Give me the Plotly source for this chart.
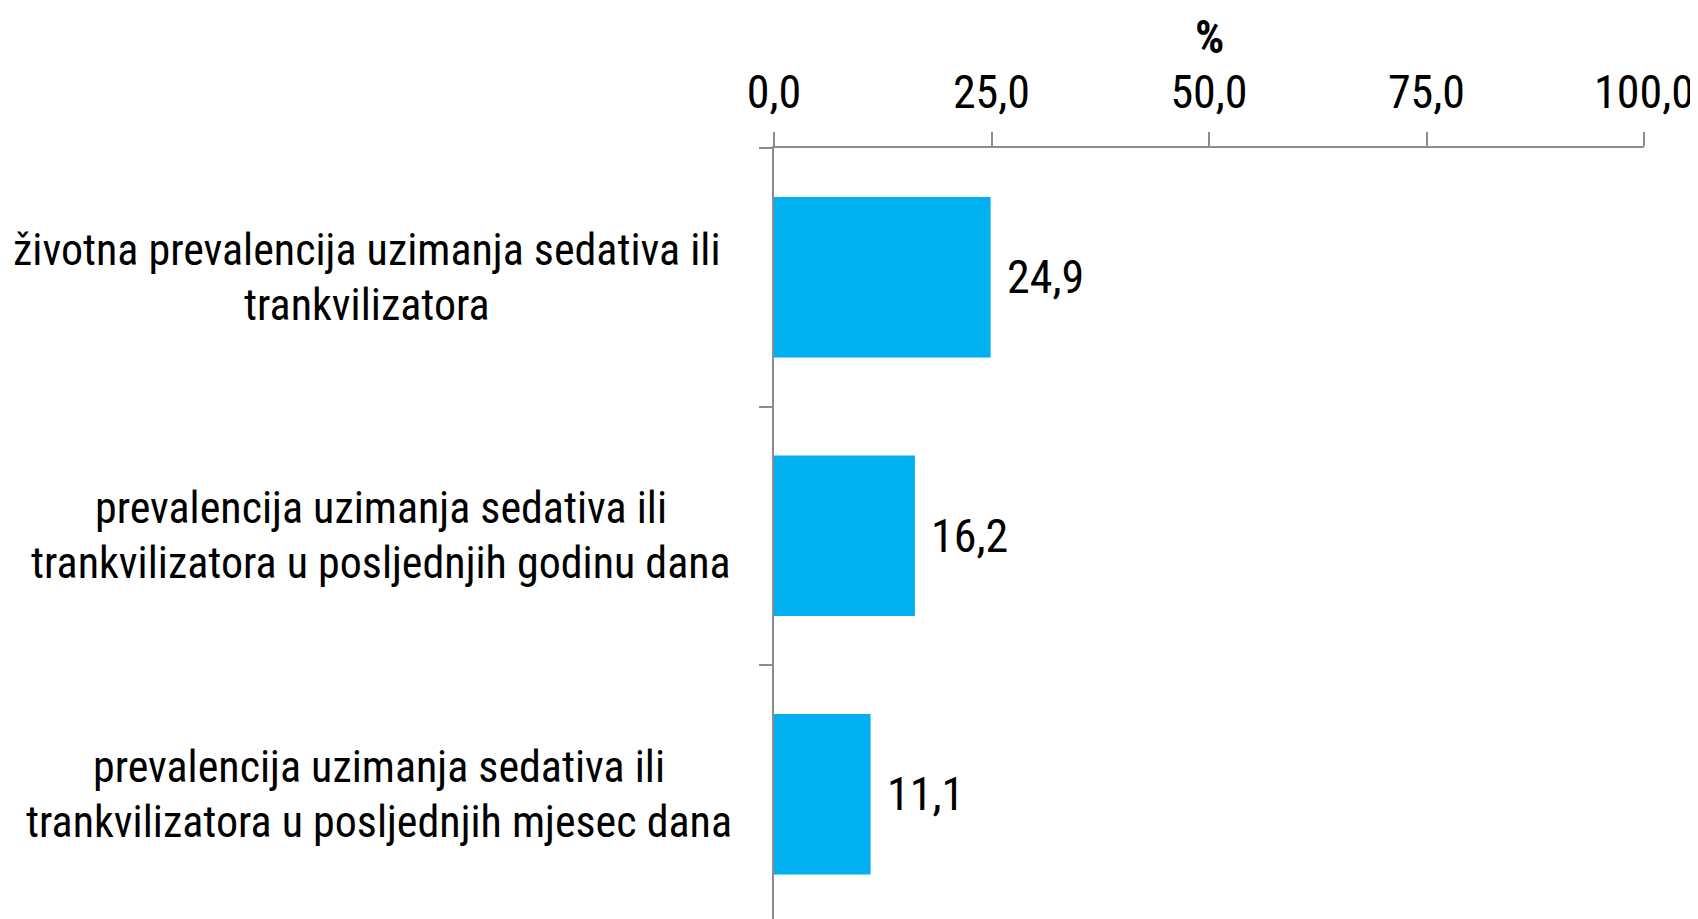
import plotly.graph_objects as go

# ---- data ----
categories = [
    "životna prevalencija uzimanja sedativa ili<br>trankvilizatora",
    "prevalencija uzimanja sedativa ili<br>trankvilizatora u posljednjih godinu dana",
    "prevalencija uzimanja sedativa ili<br>trankvilizatora u posljednjih mjesec dana",
]
values = [24.9, 16.2, 11.1]
x_tick_vals = [0, 25, 50, 75, 100]
x_title = "%"

# ---- styling ----
# page body adds an 8px margin, so the figure is laid out 8px smaller
W, H = 1690, 911
L, R, T, B = 766, 54, 140, 0
FONT = "Roboto Condensed, Liberation Sans Narrow, Arial Narrow, sans-serif"
FS_CAT = 44
FS_NUM = 46
BAR_COLOR = "#00B0F0"
AXIS_COLOR = "#8c8c8c"
plot_w = W - L - R
plot_h = H - T - B
cat_px = 258.5
label_center_px = [359, 373, 371]
line_gap = 55

fig = go.Figure()
fig.add_trace(go.Bar(
    x=values, y=categories, orientation="h",
    marker=dict(color=BAR_COLOR, line=dict(width=0)),
    width=0.62, hoverinfo="x+y",
))

annotations = []
for cat, v, cx in zip(categories, values, label_center_px):
    lines = cat.split("<br>")
    n = len(lines)
    for i, ln in enumerate(lines):
        annotations.append(dict(
            text=ln, xref="paper", yref="y", x=(cx - L) / plot_w, y=cat,
            xanchor="center", yanchor="middle", showarrow=False,
            yshift=-(i - (n - 1) / 2) * line_gap,
            font=dict(family=FONT, size=FS_CAT, color="black"),
        ))
    annotations.append(dict(
        text=f"{v:.1f}".replace(".", ","), xref="x", yref="y", x=v, y=cat,
        xanchor="left", yanchor="middle", showarrow=False, xshift=14,
        font=dict(family=FONT, size=FS_NUM, color="black"),
    ))
annotations.append(dict(
    text=f"<b>{x_title}</b>", xref="x", yref="paper", x=50, y=1 + (T - 29) / plot_h,
    xanchor="center", yanchor="middle", showarrow=False, borderpad=0,
    font=dict(family=FONT, size=46, color="black"),
))

fig.update_layout(
    width=W, height=H,
    margin=dict(l=L, r=R, t=T, b=B, pad=0),
    plot_bgcolor="white", paper_bgcolor="white",
    separators=",.",
    showlegend=False,
    annotations=annotations,
    xaxis=dict(
        side="top", range=[0, 100], tickvals=x_tick_vals, tickformat=".1f",
        showline=True, linecolor=AXIS_COLOR, linewidth=2,
        ticks="outside", ticklen=14, tickwidth=2, tickcolor=AXIS_COLOR,
        showgrid=False, zeroline=False, ticklabelstandoff=6,
        ticklabeloverflow="allow",
        tickfont=dict(family=FONT, size=FS_NUM, color="black"),
    ),
    yaxis=dict(
        type="category", autorange=False,
        range=[2.5 - (cat_px * 3 - plot_h) / cat_px, -0.5],
        showline=True, linecolor=AXIS_COLOR, linewidth=2,
        ticks="outside", tickson="boundaries", ticklen=13, tickwidth=2,
        tickcolor=AXIS_COLOR, showticklabels=False, showgrid=False, zeroline=False,
    ),
)

fig.write_html("out.html")
